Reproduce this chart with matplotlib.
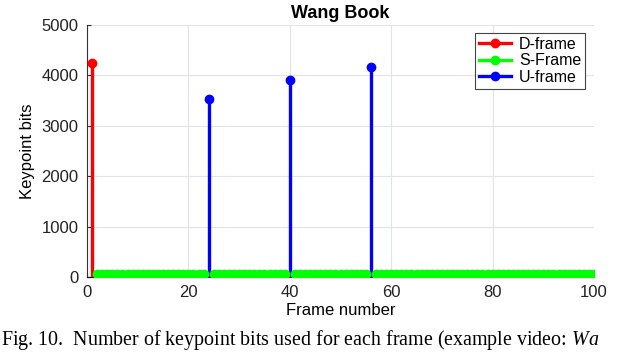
import matplotlib
matplotlib.use("Agg")
import matplotlib.pyplot as plt
from matplotlib.lines import Line2D

plt.rcParams['font.family'] = ['Liberation Sans', 'DejaVu Sans']
plt.rcParams['mathtext.fontset'] = 'custom'
plt.rcParams['mathtext.it'] = 'Liberation Serif:italic'
plt.rcParams['mathtext.rm'] = 'Liberation Serif'

title = "Wang Book"
d_frames = [1]
d_bits = [4250]
u_frames = [24, 40, 56]
u_bits = [3530, 3900, 4170]
s_frames = [f for f in range(2, 101) if f not in u_frames]
s_bits = [50] * len(s_frames)
xticks = [0, 20, 40, 60, 80, 100]
yticks = [0, 1000, 2000, 3000, 4000, 5000]
legend_labels = ['D-frame', 'S-Frame', 'U-frame']
colors = ['#ff0000', '#00ff00', '#0000ff']

fig = plt.figure(figsize=(6.4, 3.53), dpi=100)
ax = fig.add_axes([87/640, 1-277/353, (594-87)/640, (277-25)/353])

def stem(xs, ys, color):
    ax.vlines(xs, 0, ys, color=color, lw=2.4, zorder=3)
    ax.plot(xs, ys, 'o', color=color, ms=6, zorder=4)

stem(s_frames, s_bits, colors[1])
stem(d_frames, d_bits, colors[0])
stem(u_frames, u_bits, colors[2])

handles = [Line2D([], [], color=c, lw=2.4, marker='o', ms=6) for c in colors]
leg = ax.legend(handles, legend_labels, loc='upper right',
                bbox_to_anchor=(0.983, 0.97), fancybox=False, framealpha=1,
                edgecolor='#444444', fontsize=11.5, handlelength=2.0, borderpad=0.25,
                labelspacing=0.1, handletextpad=0.5, borderaxespad=0)
leg.get_frame().set_linewidth(0.8)

ax.set_xlim(0, 100)
ax.set_ylim(0, 5000)
ax.set_xticks(xticks)
ax.set_yticks(yticks)
ax.grid(True, color='#e3e3e3', lw=0.8)
ax.set_axisbelow(True)
for s in ['top', 'right']:
    ax.spines[s].set_visible(False)
ax.spines['left'].set_color('#333333')
ax.spines['bottom'].set_color('#000000')
ax.tick_params(labelsize=12, length=3, direction='in', pad=6,
               color='#333333', labelcolor='#222222')
ax.set_title(title, fontsize=13, fontweight='bold', pad=5)
ax.set_xlabel('Frame number', fontsize=12, labelpad=2)
ax.set_ylabel('Keypoint bits', fontsize=12, labelpad=5)

fig.text(0.002, 0.024, r'Fig. 10.  Number of keypoint bits used for each frame (example video: $\it{Wa}$',
         family='Liberation Serif', fontsize=14.4, va='baseline')
fig.savefig('out.png', dpi=100)
